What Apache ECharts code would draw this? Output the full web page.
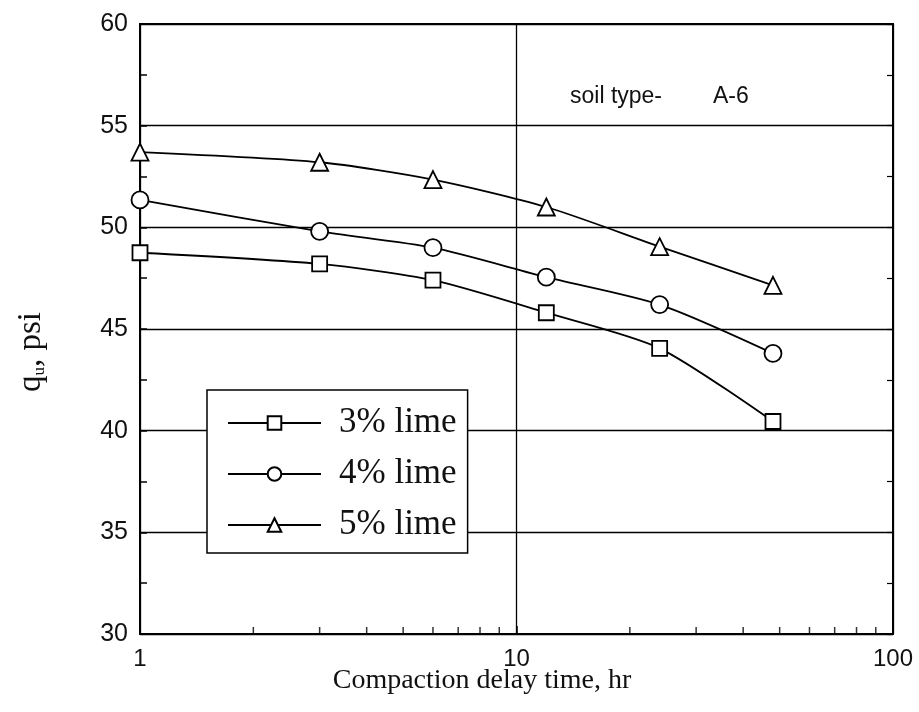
<!DOCTYPE html>
<html>
<head>
<meta charset="utf-8">
<script src="https://cdn.jsdelivr.net/npm/echarts@6/dist/echarts.min.js"></script>
<style>
  html, body { margin: 0; padding: 0; background: #fff; }
  #chart { width: 919px; height: 712px; }
</style>
</head>
<body>
<div id="chart"></div>
<script>
// Compaction delay times (hr)
const delayHours = [1, 3, 6, 12, 24, 48];
// Unconfined compressive strength q_u (psi) per lime content
const lime3 = [48.75, 48.2, 47.4, 45.8, 44.05, 40.45];
const lime4 = [51.35, 49.8, 49.0, 47.55, 46.2, 43.8];
const lime5 = [53.7, 53.2, 52.35, 51.0, 49.05, 47.15];
const seriesNames = ['3% lime', '4% lime', '5% lime'];
// Minor tick positions on the logarithmic time axis
const minorX = [2, 3, 4, 5, 6, 7, 8, 9, 20, 30, 40, 50, 60, 70, 80, 90];

const pairs = (ys) => delayHours.map((x, i) => [x, ys[i]]);

const chart = echarts.init(document.getElementById('chart'), null, { renderer: 'canvas' });

const black = '#000';
const lineW = 1.8;

function limeSeries(name, ys, symbol, size) {
  return {
    name: name,
    type: 'line',
    data: pairs(ys),
    smooth: 0.25,
    symbol: symbol,
    symbolSize: size,
    showAllSymbol: true,
    lineStyle: { color: black, width: lineW },
    itemStyle: { color: '#fff', borderColor: black, borderWidth: 1.8 },
    z: 5
  };
}

const option = {
  animation: false,
  backgroundColor: '#fff',
  grid: {
    left: 140, right: 26, top: 24, bottom: 78,
    show: true, borderColor: black, borderWidth: 2, backgroundColor: 'transparent'
  },
  xAxis: {
    type: 'log', logBase: 10, min: 1, max: 100,
    axisLine: { show: true, lineStyle: { color: black, width: 2 } },
    axisTick: { show: true, inside: true, length: 8, lineStyle: { color: black, width: 1.5 } },
    axisLabel: { color: '#111', fontFamily: 'Liberation Sans', fontSize: 24, margin: 13 },
    splitLine: { show: true, lineStyle: { color: black, width: 1.3 } }
  },
  yAxis: [
    {
      type: 'value', min: 30, max: 60, interval: 5,
      axisLine: { show: true, lineStyle: { color: black, width: 2 } },
      axisTick: { show: true, inside: true, length: 7, lineStyle: { color: black, width: 1.5 } },
      minorTick: { show: true, splitNumber: 2, length: 7, lineStyle: { color: black, width: 1.5 } },
      axisLabel: { color: '#111', fontFamily: 'Liberation Sans', fontSize: 25, margin: 12 },
      splitLine: { show: true, lineStyle: { color: black, width: 1.3 } }
    },
    {
      type: 'value', min: 30, max: 60, interval: 5, position: 'right',
      axisLine: { show: true, lineStyle: { color: black, width: 2 } },
      axisTick: { show: true, inside: true, length: 6, lineStyle: { color: black, width: 1.2 } },
      minorTick: { show: true, splitNumber: 2, length: 6, lineStyle: { color: black, width: 1.2 } },
      axisLabel: { show: false },
      splitLine: { show: false }
    }
  ],
  legend: {
    data: seriesNames,
    orient: 'vertical',
    left: 207, top: 390,
    backgroundColor: '#fff',
    borderColor: black, borderWidth: 1.5, borderRadius: 0,
    padding: [15, 11, 10, 20],
    itemWidth: 93, itemHeight: 17,
    itemGap: 15,
    selectedMode: false,
    textStyle: {
      color: '#111', fontFamily: 'Liberation Serif', fontSize: 35,
      lineHeight: 36, padding: [0, 0, 0, 13]
    }
  },
  graphic: [
    {
      type: 'text', x: 31, y: 352, rotation: Math.PI / 2,
      style: {
        text: '{q|q}{u|u}{q|, psi}',
        align: 'center', verticalAlign: 'middle', fill: '#111',
        rich: {
          q: { fontFamily: 'Liberation Serif', fontSize: 33, lineHeight: 34 },
          u: { fontFamily: 'Liberation Serif', fontSize: 17, lineHeight: 34, verticalAlign: 'bottom' }
        }
      }
    },
    {
      type: 'text', x: 482, y: 681,
      style: {
        text: 'Compaction delay time, hr',
        align: 'center', verticalAlign: 'middle', fill: '#111',
        fontFamily: 'Liberation Serif', fontSize: 28
      }
    },
    {
      type: 'text', x: 570, y: 97,
      style: {
        text: 'soil type-', align: 'left', verticalAlign: 'middle', fill: '#111',
        fontFamily: 'Liberation Sans', fontSize: 23
      }
    },
    {
      type: 'text', x: 713, y: 97,
      style: {
        text: 'A-6', align: 'left', verticalAlign: 'middle', fill: '#111',
        fontFamily: 'Liberation Sans', fontSize: 23
      }
    }
  ],
  series: [
    limeSeries(seriesNames[0], lime3, 'rect', 15),
    limeSeries(seriesNames[1], lime4, 'circle', 17),
    limeSeries(seriesNames[2], lime5, 'triangle', 17),
    {
      name: 'minor ticks',
      type: 'scatter',
      data: minorX.map(v => [v, 30]),
      symbol: 'rect',
      symbolSize: [1.5, 7],
      symbolOffset: [0, -3.5],
      itemStyle: { color: black },
      silent: true,
      z: 3
    }
  ]
};

chart.setOption(option);
</script>
</body>
</html>
